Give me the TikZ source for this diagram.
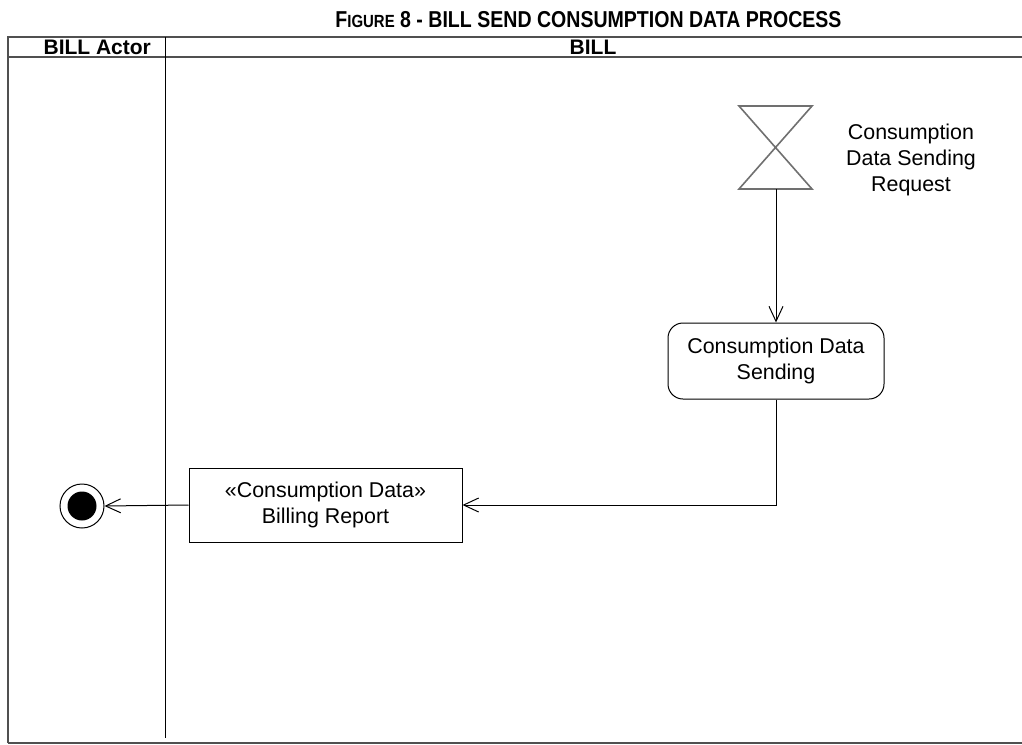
\documentclass[tikz,border=0pt]{standalone}
\usepackage{fontspec}
\setmainfont{Liberation Sans}
\newfontfamily\narrowfont[FakeStretch=0.85]{Liberation Sans}
\usetikzlibrary{arrows.meta}
\definecolor{frame}{HTML}{505050}
\definecolor{hg}{HTML}{707070}
\tikzset{
  umlarrow/.style={-{Straight Barb[length=7.5pt,width=7pt,line width=0.5pt]}, line width=0.5pt},
  body/.style={font=\fontsize{10.7pt}{13pt}\selectfont, align=center},
  head/.style={font=\fontsize{10.5pt}{12pt}\selectfont\bfseries},
}
\begin{document}
\begin{tikzpicture}[x=0.5pt,y=-0.5pt]
\useasboundingbox (0,0) rectangle (1022,744);
% title
\node[font=\narrowfont\fontsize{11.5pt}{13pt}\selectfont\bfseries] (title) at (588.5,20)
  {F{\fontsize{8.8pt}{10pt}\selectfont IGURE} 8 - BILL SEND CONSUMPTION DATA PROCESS};
% frame
\draw[frame, line width=0.9pt] (8,743) -- (8,37) -- (1022,37);
\draw[frame, line width=0.9pt] (8,743) -- (1022,743);
\draw[frame, line width=0.7pt] (8,57) -- (1022,57);
\draw[black, line width=0.5pt] (165,37) -- (165,738);
\node[head, anchor=east] (lane1) at (158,47.5) {BILL Actor};
\node[head] (lane2) at (593,47.5) {BILL};
% accept event (hourglass)
\coordinate (hgtop) at (776,106);
\coordinate (hgbot) at (776,189);
\draw[hg, line width=0.8pt] (739,106) -- (812,106) -- (739,189) -- (812,189) -- cycle;
\node[body] (hglabel) at (911,160) {Consumption\\Data Sending\\Request};
% action
\node[body, draw, line width=0.5pt, rounded corners=7.5pt, minimum width=108pt, minimum height=38pt] (send) at (776,361) {Consumption Data\\Sending};
% object
\node[body, draw, line width=0.5pt, minimum width=136.5pt, minimum height=37pt] (report) at (325.5,505) {«Consumption Data»\\Billing Report};
% final
\node[draw, circle, line width=0.5pt, minimum size=22pt, inner sep=0pt] (final) at (82,506) {};
\fill (final.center) circle[radius=7.25pt];
% flows
\draw[umlarrow] (hgbot) -- (send.north);
\draw[umlarrow] (send.south) |- (report.east);
\draw[umlarrow] (report.west) -- (final.east);
\end{tikzpicture}
\end{document}
